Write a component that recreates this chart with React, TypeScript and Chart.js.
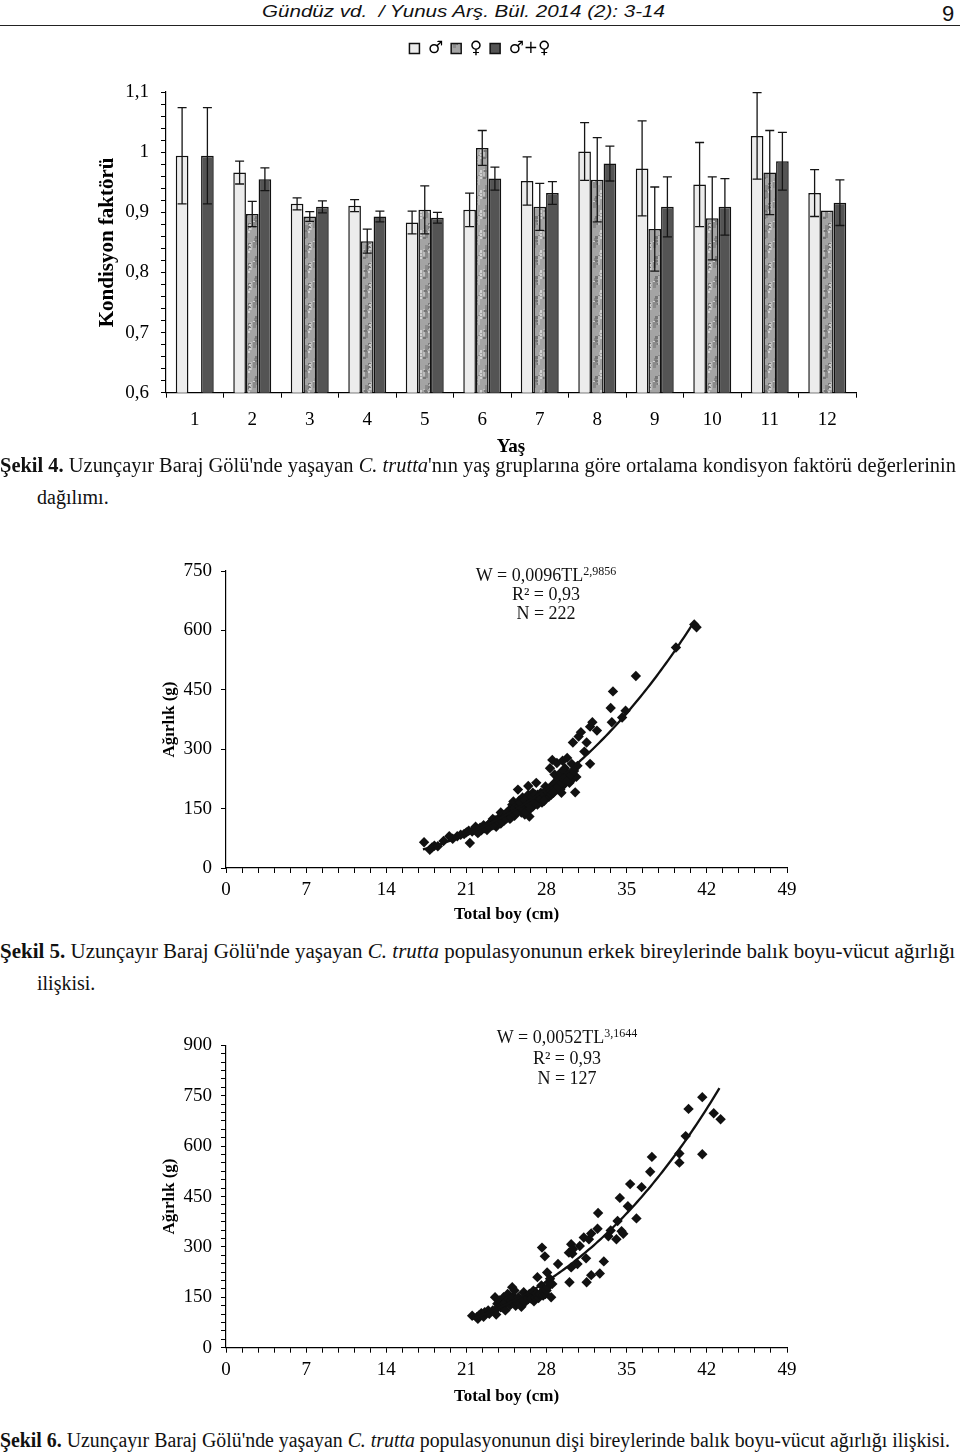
import React, { useEffect, useLayoutEffect, useRef } from "react";
import { Chart, registerables } from "chart.js";

Chart.register(...registerables);

const SERIF = "'Liberation Serif', 'Times New Roman', serif";
const SANS = "'Liberation Sans', Arial, sans-serif";

// ---------- Şekil 4: condition factor by age ----------
const AGES = ["1", "2", "3", "4", "5", "6", "7", "8", "9", "10", "11", "12"];
const MALE_K = [0.994, 0.966, 0.914, 0.911, 0.883, 0.904, 0.952, 1.001, 0.973, 0.946, 1.027, 0.932];
const MALE_K_ERR = [0.08, 0.019, 0.01, 0.01, 0.019, 0.028, 0.04, 0.048, 0.079, 0.07, 0.072, 0.039];
const FEMALE_K = [null, 0.897, 0.893, 0.852, 0.904, 1.007, 0.909, 0.954, 0.872, 0.89, 0.966, 0.903];
const FEMALE_K_ERR = [null, 0.021, 0.008, 0.02, 0.04, 0.029, 0.039, 0.07, 0.07, 0.069, 0.07, null];
const ALL_K = [0.994, 0.955, 0.909, 0.893, 0.891, 0.956, 0.932, 0.981, 0.909, 0.909, 0.985, 0.916];
const ALL_K_ERR = [0.08, 0.019, 0.01, 0.009, 0.009, 0.019, 0.019, 0.029, 0.05, 0.047, 0.048, 0.038];
const LEGEND_LABELS = ["♂", "♀", "♂+♀"];

// ---------- Şekil 5: males length-weight ----------
const MALE_TL = [17.3, 17.8, 18.0, 18.2, 18.5, 19.0, 19.5, 19.8, 20.2, 20.5, 20.8, 21.0, 21.3, 21.2, 21.5, 21.7, 21.8, 21.9, 22.0, 22.2, 22.3, 22.4, 22.5, 22.7, 22.8, 22.9, 23.0, 23.1, 23.2, 23.3, 23.4, 23.5, 23.6, 23.7, 23.8, 23.9, 24.0, 24.0, 24.1, 24.2, 24.3, 24.4, 24.5, 24.6, 24.7, 24.8, 24.9, 25.0, 25.0, 25.1, 25.2, 25.3, 25.3, 25.4, 25.5, 25.5, 25.6, 25.7, 25.8, 25.8, 25.9, 26.0, 26.1, 26.2, 26.3, 26.3, 26.4, 26.4, 26.5, 26.6, 26.7, 26.8, 26.8, 26.9, 27.0, 27.1, 27.1, 27.2, 27.4, 27.5, 27.6, 27.7, 27.9, 27.9, 28.0, 28.1, 28.2, 28.3, 28.4, 28.5, 28.5, 28.6, 28.7, 28.8, 28.9, 28.9, 29.0, 29.2, 29.2, 29.3, 29.4, 29.5, 29.6, 29.6, 29.6, 29.8, 29.9, 30.0, 30.2, 30.2, 30.3, 30.5, 30.6, 30.7, 30.8, 31.0, 31.3, 31.5, 31.8, 31.8, 32.0, 32.4, 33.6, 33.7, 33.8, 34.6, 34.9, 35.8, 39.3, 40.9, 41.1,
  22.1, 22.6, 23.0, 23.3, 23.5, 23.7, 24.1, 24.3, 24.5, 24.6, 24.8, 24.9, 25.1, 25.2, 25.4, 25.6, 25.7, 25.9, 26.0, 26.1, 26.2, 26.4, 26.6, 26.7, 26.9, 27.0, 27.2, 27.3, 27.5, 27.7, 27.8, 28.0, 28.2, 28.4, 28.6, 28.8, 29.0, 29.3, 29.5, 29.8, 30.1, 30.4];
const MALE_W = [65, 46, 52, 56, 55, 68, 80, 74, 80, 84, 86, 90, 63, 94, 92, 98, 104, 96, 88, 102, 95, 100, 108, 104, 96, 109, 112, 106, 116, 124, 110, 121, 104, 113, 118, 128, 112, 140, 126, 134, 120, 130, 139, 130, 145, 124, 150, 140, 160, 168, 132, 155, 145, 160, 198, 148, 170, 151, 140, 162, 178, 165, 135, 158, 143, 170, 185, 207, 130, 172, 160, 155, 190, 180, 168, 175, 215, 185, 170, 190, 165, 177, 206, 178, 185, 189, 180, 252, 195, 202, 273, 212, 236, 205, 198, 265, 225, 240, 198, 190, 271, 210, 252, 214, 245, 278, 230, 215, 263, 223, 317, 191, 230, 258, 332, 343, 294, 317, 263, 357, 368, 347, 404, 368, 446, 380, 397, 485, 557, 615, 608,
  92, 100, 104, 108, 114, 120, 118, 128, 125, 140, 135, 128, 138, 150, 142, 155, 165, 150, 145, 172, 142, 160, 150, 180, 165, 185, 160, 178, 175, 188, 170, 195, 200, 185, 190, 215, 205, 215, 225, 220, 235, 245];
const MALE_A = 0.0096;
const MALE_B = 2.9856;
const MALE_RANGE = [17.2, 40.9];

// ---------- Şekil 6: females length-weight ----------
const FEMALE_TL = [21.5, 21.9, 22.0, 22.1, 22.3, 22.5, 22.6, 22.9, 23.0, 23.3, 23.5, 23.6, 23.7, 23.8, 23.9, 24.0, 24.1, 24.25, 24.3, 24.4, 24.45, 24.6, 24.7, 24.8, 24.9, 25.0, 25.0, 25.1, 25.2, 25.3, 25.4, 25.5, 25.55, 25.7, 25.8, 25.9, 26.0, 26.1, 26.3, 26.4, 26.5, 26.65, 26.85, 26.9, 27.0, 27.1, 27.2, 27.3, 27.4, 27.55, 27.6, 27.7, 27.75, 27.85, 27.9, 28.0, 28.05, 28.1, 28.2, 28.3, 28.4, 28.5, 29.0, 29.95, 30.0, 30.15, 30.15, 30.25, 30.3, 30.7, 30.9, 31.25, 31.45, 31.5, 31.7, 31.9, 31.9, 32.45, 32.5, 32.65, 33.0, 33.4, 33.6, 34.1, 34.2, 34.4, 34.55, 34.7, 35.1, 35.3, 35.85, 36.3, 37.05, 37.2, 39.6, 39.6, 40.15, 40.4, 41.6, 41.6, 42.6, 43.2];
const FEMALE_W = [95, 91, 86, 96, 103, 92, 106, 111, 101, 111, 150, 99, 131, 121, 141, 120, 126, 150, 131, 111, 136, 160, 145, 126, 140, 150, 180, 152, 170, 125, 136, 140, 150, 131, 122, 141, 165, 135, 155, 145, 160, 146, 170, 138, 150, 162, 210, 148, 160, 185, 298, 155, 170, 272, 160, 170, 224, 180, 195, 205, 150, 190, 249, 283, 195, 239, 308, 280, 293, 249, 303, 328, 266, 195, 323, 216, 340, 354, 401, 221, 257, 332, 349, 323, 377, 446, 347, 339, 421, 487, 385, 478, 524, 568, 551, 578, 630, 711, 576, 746, 698, 680];
const FEMALE_A = 0.0052;
const FEMALE_B = 3.1644;
const FEMALE_RANGE = [21.5, 43.1];

function makeMottle(): CanvasPattern | string {
  const c = document.createElement("canvas");
  c.width = 20;
  c.height = 20;
  const g = c.getContext("2d");
  if (!g) return "#a6a6a6";
  g.fillStyle = "#a4a4a4";
  g.fillRect(0, 0, 20, 20);
  const cols = ["#d0d0d0", "#767676", "#bcbcbc", "#8a8a8a"];
  for (let i = 0; i < 48; i++) {
    const px = (i * 7 + ((i * i) % 5)) % 20;
    const py = (i * 13 + ((i * 3) % 7)) % 20;
    g.fillStyle = cols[i % 4];
    g.fillRect(px, py, 2 + (i % 2), 2 + ((i >> 1) % 2));
  }
  return g.createPattern(c, "repeat") || "#a6a6a6";
}

const ERRS = [MALE_K_ERR, FEMALE_K_ERR, ALL_K_ERR];

const errorBarPlugin = {
  id: "errorBars",
  afterDatasetsDraw(chart: any) {
    const ctx = chart.ctx;
    const y = chart.scales.y;
    ERRS.forEach((errs, di) => {
      const meta = chart.getDatasetMeta(di);
      const data = chart.data.datasets[di].data;
      meta.data.forEach((bar: any, i: number) => {
        const v = data[i];
        const e = errs[i];
        if (v == null || e == null) return;
        const t = y.getPixelForValue(v + e);
        const b = y.getPixelForValue(v - e);
        ctx.save();
        ctx.strokeStyle = "#151515";
        ctx.lineWidth = 1.3;
        ctx.beginPath();
        ctx.moveTo(bar.x, t);
        ctx.lineTo(bar.x, b);
        ctx.moveTo(bar.x - 4.5, t);
        ctx.lineTo(bar.x + 4.5, t);
        ctx.moveTo(bar.x - 4.5, b);
        ctx.lineTo(bar.x + 4.5, b);
        ctx.stroke();
        ctx.restore();
      });
    });
  },
};

function barConfig(): any {
  const mottle = makeMottle();
  const common = { xAxisID: "x", yAxisID: "y", barPercentage: 1, categoryPercentage: 0.66, borderWidth: 1.5, borderColor: "#111" };
  return {
    type: "bar",
    data: {
      labels: AGES,
      datasets: [
        { ...common, label: LEGEND_LABELS[0], data: MALE_K, backgroundColor: "#ececec" },
        { ...common, label: LEGEND_LABELS[1], data: FEMALE_K, backgroundColor: mottle },
        { ...common, label: LEGEND_LABELS[2], data: ALL_K, backgroundColor: "#545454" },
      ],
    },
    plugins: [errorBarPlugin],
    options: {
      animation: false,
      responsive: true,
      maintainAspectRatio: false,
      layout: { padding: { top: 2, left: 0, right: 0, bottom: 0 } },
      plugins: {
        tooltip: { enabled: false },
        legend: {
          display: true,
          position: "top",
          labels: { boxWidth: 10, boxHeight: 10, padding: 8, color: "#000", font: { family: "'DejaVu Sans', sans-serif", size: 17 } },
        },
      },
      scales: {
        x: {
          position: "bottom",
          grid: { offset: true, drawOnChartArea: false, drawTicks: true, tickLength: 5, color: "#000" },
          border: { color: "#000", width: 1.2 },
          ticks: { color: "#000", font: { family: SERIF, size: 19 }, padding: 11, maxRotation: 0 },
          title: { display: true, text: "Yaş", color: "#000", font: { family: SERIF, size: 19, weight: "bold" }, padding: { top: 0, bottom: 1.6 } },
          afterFit: (s: any) => { s.height = 67.3; },
        },
        xTop: {
          type: "category",
          labels: AGES,
          position: "top",
          grid: { display: false },
          border: { display: false },
          ticks: { display: false },
          afterFit: (s: any) => { s.height = 25; },
        },
        y2: {
          position: "right",
          grid: { display: false },
          border: { display: false },
          ticks: { display: false },
          afterFit: (s: any) => { s.width = 104; },
        },
        y: {
          position: "left",
          min: 0.6,
          max: 1.1,
          ticks: {
            stepSize: 0.02,
            autoSkip: false,
            color: "#000",
            font: { family: SERIF, size: 19 },
            padding: 12,
            callback: (v: any) => {
              const n = Math.round(Number(v) * 100);
              return n % 10 === 0 ? String(n / 100).replace(".", ",") : "";
            },
          },
          grid: { drawOnChartArea: false, drawTicks: true, tickLength: 5, color: "#000" },
          border: { color: "#000", width: 1.2 },
          title: { display: true, text: "Kondisyon faktörü", color: "#000", font: { family: SERIF, size: 21, weight: "bold" }, padding: { top: 95, bottom: 0 } },
          afterFit: (s: any) => { s.width = 166; },
        },
      },
    },
  };
}

function scatterConfig(opts: {
  tl: number[]; w: number[]; a: number; b: number; range: number[];
  yMax: number; yStep: number; padTop: number; xHeight: number; xTickPad: number; xTitlePad: number;
}): any {
  const pts = opts.tl.map((x, i) => ({ x, y: opts.w[i] }));
  const curve: { x: number; y: number }[] = [];
  for (let L = opts.range[0]; L <= opts.range[1] + 1e-9; L += 0.2) {
    curve.push({ x: L, y: opts.a * Math.pow(L, opts.b) });
  }
  return {
    type: "scatter",
    data: {
      datasets: [
        { type: "line", data: curve, borderColor: "#111", borderWidth: 2.3, pointRadius: 0, showLine: true, fill: false, tension: 0 },
        { data: pts, pointStyle: "rectRot", pointRadius: 5.2, backgroundColor: "#111", borderWidth: 0 },
      ],
    },
    options: {
      animation: false,
      responsive: true,
      maintainAspectRatio: false,
      layout: { padding: { left: 0, right: 173, top: opts.padTop, bottom: 0 } },
      plugins: { legend: { display: false }, tooltip: { enabled: false } },
      scales: {
        x: {
          type: "linear",
          min: 0,
          max: 49,
          ticks: {
            stepSize: 1.4,
            autoSkip: false,
            maxRotation: 0,
            color: "#000",
            font: { family: SERIF, size: 19 },
            padding: opts.xTickPad,
            callback: (v: any) => {
              const n = Math.round(Number(v) * 10);
              return n % 70 === 0 ? String(n / 10) : "";
            },
          },
          grid: { drawOnChartArea: false, drawTicks: true, tickLength: 5, color: "#000" },
          border: { color: "#000", width: 1.2 },
          title: { display: true, text: "Total boy (cm)", color: "#000", font: { family: SERIF, size: 17, weight: "bold" }, padding: { top: 0, bottom: opts.xTitlePad } },
          afterFit: (s: any) => { s.height = opts.xHeight; },
        },
        y: {
          type: "linear",
          min: 0,
          max: opts.yMax,
          ticks: {
            stepSize: opts.yStep,
            autoSkip: false,
            color: "#000",
            font: { family: SERIF, size: 19 },
            padding: 9,
            callback: (v: any) => {
              const n = Math.round(Number(v));
              return n % 150 === 0 ? String(n) : "";
            },
          },
          grid: { drawOnChartArea: false, drawTicks: true, tickLength: 5, color: "#000" },
          border: { color: "#000", width: 1.2 },
          title: { display: true, text: "Ağırlık (g)", color: "#000", font: { family: SERIF, size: 17, weight: "bold" }, padding: { top: 159, bottom: 0 } },
          afterFit: (s: any) => { s.width = 226; },
        },
      },
    },
  };
}

function ChartBox(props: { left: number; top: number; width: number; height: number; make: () => any }) {
  const ref = useRef<HTMLCanvasElement>(null);
  useEffect(() => {
    const chart = new Chart(ref.current as HTMLCanvasElement, props.make());
    return () => chart.destroy();
  }, []);
  return (
    <div style={{ position: "absolute", left: props.left, top: props.top, width: props.width, height: props.height }}>
      <canvas ref={ref} />
    </div>
  );
}

function FitLine(props: { left: number; cy: number; size: number; width?: number; family?: string; italic?: boolean; children: React.ReactNode }) {
  const ref = useRef<HTMLDivElement>(null);
  useLayoutEffect(() => {
    const el = ref.current;
    if (!el || !props.width) return;
    el.style.transform = "none";
    const w = el.getBoundingClientRect().width;
    if (w > 0) el.style.transform = `scaleX(${props.width / w})`;
  }, []);
  return (
    <div
      ref={ref}
      style={{
        position: "absolute",
        left: props.left,
        top: props.cy - props.size * 0.6,
        fontSize: props.size,
        lineHeight: 1.2,
        fontFamily: props.family || SERIF,
        fontStyle: props.italic ? "italic" : "normal",
        whiteSpace: "pre",
        transformOrigin: "left center",
        color: "#111",
      }}
    >
      {props.children}
    </div>
  );
}

function Equation(props: { cx: number; ys: number[]; a: string; b: string; r2: string; n: string }) {
  const line = (cy: number, content: React.ReactNode) => (
    <div style={{ position: "absolute", left: props.cx - 150, width: 300, top: cy - 11, height: 22, lineHeight: "22px", textAlign: "center", fontFamily: SERIF, fontSize: 18, color: "#111", whiteSpace: "nowrap" }}>
      {content}
    </div>
  );
  return (
    <>
      {line(props.ys[0], <span>W = {props.a}TL<sup style={{ fontSize: 12, verticalAlign: "6px", lineHeight: 0 }}>{props.b}</sup></span>)}
      {line(props.ys[1], <span>R² = {props.r2}</span>)}
      {line(props.ys[2], <span>N = {props.n}</span>)}
    </>
  );
}

export default function App() {
  return (
    <div style={{ position: "absolute", left: 0, top: 0, width: 960, height: 1454, background: "#fff", overflow: "hidden" }}>
      <FitLine left={262} cy={12} size={17} width={403} family={SANS} italic>
        {"Gündüz vd.  / Yunus Arş. Bül. 2014 (2): 3-14"}
      </FitLine>
      <FitLine left={942} cy={14} size={22} family={SANS}>9</FitLine>
      <div style={{ position: "absolute", left: 0, top: 25, width: 960, height: 1, background: "#222" }} />

      <ChartBox left={0} top={30} width={960} height={430} make={barConfig} />

      <FitLine left={0} cy={465} size={20} width={956}>
        <b>Şekil 4.</b> Uzunçayır Baraj Gölü'nde yaşayan <i>C. trutta</i>'nın yaş gruplarına göre ortalama kondisyon faktörü değerlerinin
      </FitLine>
      <FitLine left={37} cy={497} size={20}>dağılımı.</FitLine>

      <ChartBox
        left={0}
        top={550}
        width={960}
        height={380}
        make={() => scatterConfig({ tl: MALE_TL, w: MALE_W, a: MALE_A, b: MALE_B, range: MALE_RANGE, yMax: 750, yStep: 150, padTop: 21, xHeight: 62, xTickPad: 6, xTitlePad: 4.8 })}
      />
      <Equation cx={546} ys={[575, 594, 613]} a="0,0096" b="2,9856" r2="0,93" n="222" />

      <FitLine left={0} cy={951} size={20} width={955}>
        <b>Şekil 5.</b> Uzunçayır Baraj Gölü'nde yaşayan <i>C. trutta</i> populasyonunun erkek bireylerinde balık boyu-vücut ağırlığı
      </FitLine>
      <FitLine left={37} cy={983} size={20}>ilişkisi.</FitLine>

      <ChartBox
        left={0}
        top={1025}
        width={960}
        height={385}
        make={() => scatterConfig({ tl: FEMALE_TL, w: FEMALE_W, a: FEMALE_A, b: FEMALE_B, range: FEMALE_RANGE, yMax: 900, yStep: 25, padTop: 17.7, xHeight: 62.3, xTickPad: 6, xTitlePad: 2.8 })}
      />
      <Equation cx={567} ys={[1037, 1058, 1078]} a="0,0052" b="3,1644" r2="0,93" n="127" />

      <FitLine left={0} cy={1440} size={20} width={950}>
        <b>Şekil 6.</b> Uzunçayır Baraj Gölü'nde yaşayan <i>C. trutta</i> populasyonunun dişi bireylerinde balık boyu-vücut ağırlığı ilişkisi.
      </FitLine>
    </div>
  );
}
